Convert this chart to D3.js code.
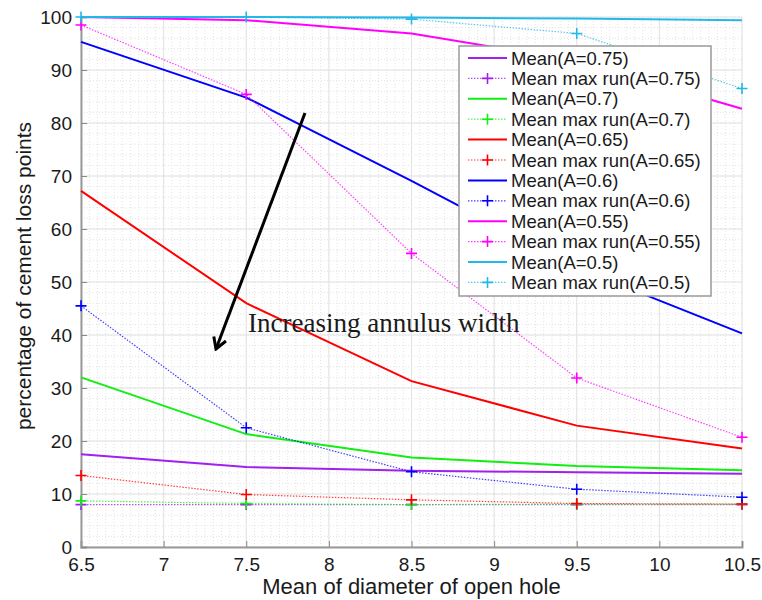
<!DOCTYPE html>
<html>
<head>
<meta charset="utf-8">
<script src="https://cdn.jsdelivr.net/npm/d3@7"></script>
<style>
  body { margin: 0; background: #fff; }
  text { font-family: "Liberation Sans", Arial, sans-serif; fill: #1a1a1a; }
</style>
</head>
<body>
<div id="chart"></div>
<script>
// x values: mean diameter of open hole
var diameters = [6.5, 7.5, 8.5, 9.5, 10.5];
var annulusA = ['0.75', '0.7', '0.65', '0.6', '0.55', '0.5'];

// percentage of cement loss points, per annulus parameter A
var meanA075 = [17.5, 15.1, 14.4, 14.1, 13.8];
var maxRunA075 = [8.0, 8.0, 8.0, 8.0, 8.0];
var meanA070 = [32.0, 21.3, 16.9, 15.3, 14.5];
var maxRunA070 = [8.7, 8.2, 8.0, 8.1, 8.1];
var meanA065 = [67.2, 46.0, 31.3, 22.9, 18.6];
var maxRunA065 = [13.5, 9.9, 8.9, 8.2, 8.1];
var meanA060 = [95.3, 84.8, 69.1, 52.7, 40.3];
var maxRunA060 = [45.5, 22.5, 14.2, 10.9, 9.4];
var meanA055 = [100, 99.4, 96.9, 91.7, 82.7];
var maxRunA055 = [98.5, 85.4, 55.4, 31.9, 20.7];
var meanA050 = [100, 100, 99.9, 99.7, 99.4];
var maxRunA050 = [100, 100, 99.6, 96.9, 86.5];

var xTicks = [6.5, 7, 7.5, 8, 8.5, 9, 9.5, 10, 10.5];
var yTicks = [0, 10, 20, 30, 40, 50, 60, 70, 80, 90, 100];

var colors = ['#a020f0', '#11ee11', '#ff0000', '#0000ff', '#ff00ff', '#22b8e8'];

var means = [meanA075, meanA070, meanA065, meanA060, meanA055, meanA050];
var maxRuns = [maxRunA075, maxRunA070, maxRunA065, maxRunA060, maxRunA055, maxRunA050];

var series = [];
annulusA.forEach(function(a, i) {
    series.push({ label: 'Mean(A=' + a + ')', values: means[i], color: colors[i], dotted: false });
    series.push({ label: 'Mean max run(A=' + a + ')', values: maxRuns[i], color: colors[i], dotted: true });
});

var width = 762;
var height = 600;
var margin = { top: 17, right: 20, bottom: 53, left: 81 };

var svg = d3.select('#chart')
    .append('svg')
        .attr('width', width)
        .attr('height', height);

var x = d3.scaleLinear()
    .domain([6.5, 10.5])
    .range([margin.left, width - margin.right]);

var y = d3.scaleLinear()
    .domain([0, 100])
    .range([height - margin.bottom, margin.top]);

// minor grid
var grid = svg.append('g').attr('class', 'grid');

grid.selectAll('.minor-x')
    .data(d3.range(6.5, 10.5001, 0.05))
    .enter()
    .append('line')
        .attr('x1', d => x(d)).attr('x2', d => x(d))
        .attr('y1', y(0)).attr('y2', y(100))
        .attr('stroke', '#dcdcdc')
        .attr('stroke-width', 0.8)
        .attr('stroke-dasharray', '1,2');

grid.selectAll('.minor-y')
    .data(d3.range(0, 100.001, 2))
    .enter()
    .append('line')
        .attr('x1', x(6.5)).attr('x2', x(10.5))
        .attr('y1', d => y(d)).attr('y2', d => y(d))
        .attr('stroke', '#dcdcdc')
        .attr('stroke-width', 0.8)
        .attr('stroke-dasharray', '1,2');

// major grid
grid.selectAll('.major-x')
    .data(xTicks)
    .enter()
    .append('line')
        .attr('x1', d => x(d)).attr('x2', d => x(d))
        .attr('y1', y(0)).attr('y2', y(100))
        .attr('stroke', '#e2e2e2')
        .attr('stroke-width', 1);

grid.selectAll('.major-y')
    .data(yTicks)
    .enter()
    .append('line')
        .attr('x1', x(6.5)).attr('x2', x(10.5))
        .attr('y1', d => y(d)).attr('y2', d => y(d))
        .attr('stroke', '#e2e2e2')
        .attr('stroke-width', 1);

// axes
var xAxis = svg.append('g')
    .attr('transform', 'translate(0,' + y(0) + ')')
    .call(d3.axisBottom(x).tickValues(xTicks).tickSize(-6).tickPadding(11).tickFormat(d3.format('')));

var yAxis = svg.append('g')
    .attr('transform', 'translate(' + x(6.5) + ',0)')
    .call(d3.axisLeft(y).tickValues(yTicks).tickSize(-6).tickPadding(9));

[xAxis, yAxis].forEach(function(ax) {
    ax.select('.domain').attr('stroke', '#999').attr('stroke-width', 2);
    ax.selectAll('.tick line').attr('stroke', '#888').attr('stroke-width', 1);
    ax.selectAll('.tick text').style('font-size', '19px').attr('fill', '#1a1a1a');
});

// series
var line = d3.line()
    .x((d, i) => x(diameters[i]))
    .y(d => y(d));

var plot = svg.append('g').classed('series', true);

series.forEach(function(s) {
    var g = plot.append('g');
    g.append('path')
        .attr('d', line(s.values))
        .attr('fill', 'none')
        .attr('stroke', s.color)
        .attr('stroke-width', s.dotted ? 1.2 : 2)
        .attr('stroke-dasharray', s.dotted ? '1.5,1.5' : null)
        .attr('opacity', s.dotted ? 0.75 : 1);

    if (s.dotted) {
        g.selectAll('.mark')
            .data(s.values)
            .enter()
            .append('path')
                .attr('d', (d, i) => {
                    var cx = x(diameters[i]), cy = y(d);
                    return 'M' + (cx - 5.5) + ',' + cy + 'H' + (cx + 5.5) + 'M' + cx + ',' + (cy - 5.5) + 'V' + (cy + 5.5);
                })
                .attr('stroke', s.color)
                .attr('stroke-width', 1.6);
    }
});

// annotation arrow
svg.append('defs').append('marker')
    .attr('id', 'head')
    .attr('viewBox', '-12 -8 14 16')
    .attr('markerWidth', 14)
    .attr('markerHeight', 16)
    .attr('markerUnits', 'userSpaceOnUse')
    .attr('orient', 'auto')
    .append('path')
        .attr('d', 'M-11,-6.5L0,0L-11,6.5')
        .attr('fill', 'none')
        .attr('stroke', '#000')
        .attr('stroke-width', 3);

svg.append('line')
    .attr('x1', 305).attr('y1', 113)
    .attr('x2', 216).attr('y2', 349)
    .attr('stroke', '#000')
    .attr('stroke-width', 3)
    .attr('marker-end', 'url(#head)');

svg.append('text')
    .attr('x', 248)
    .attr('y', 332)
    .style('font-family', '"Liberation Serif", "Times New Roman", serif')
    .style('font-size', '27px')
    .attr('fill', '#000')
    .text('Increasing annulus width');

// legend
var legend = svg.append('g')
    .attr('transform', 'translate(459, 46)');

legend.append('rect')
    .attr('width', 252)
    .attr('height', 250)
    .attr('fill', '#fff')
    .attr('stroke', '#999')
    .attr('stroke-width', 1.5);

var legendRow = legend.selectAll('.legendRow')
    .data(series)
    .enter()
    .append('g')
        .attr('class', 'legendRow')
        .attr('transform', (d, i) => 'translate(0, ' + (12 + i * 20.4) + ')');

legendRow.append('line')
    .attr('x1', 9).attr('x2', 48)
    .attr('stroke', d => d.color)
    .attr('stroke-width', d => d.dotted ? 1.2 : 2)
    .attr('stroke-dasharray', d => d.dotted ? '1.5,1.5' : null)
    .attr('opacity', d => d.dotted ? 0.75 : 1);

legendRow.filter(d => d.dotted)
    .append('path')
        .attr('d', 'M23,0H34M28.5,-5.5V5.5')
        .attr('stroke', d => d.color)
        .attr('stroke-width', 1.6);

legendRow.append('text')
    .attr('x', 52)
    .attr('y', 6.6)
    .style('font-size', '18.5px')
    .text(d => d.label);

// axis titles
svg.append('text')
    .attr('x', (x(6.5) + x(10.5)) / 2)
    .attr('y', 594)
    .attr('text-anchor', 'middle')
    .style('font-size', '22px')
    .text('Mean of diameter of open hole');

svg.append('text')
    .attr('transform', 'translate(31, ' + 276 + ') rotate(-90)')
    .attr('text-anchor', 'middle')
    .style('font-size', '21px')
    .text('percentage of cement loss points');
</script>
</body>
</html>
